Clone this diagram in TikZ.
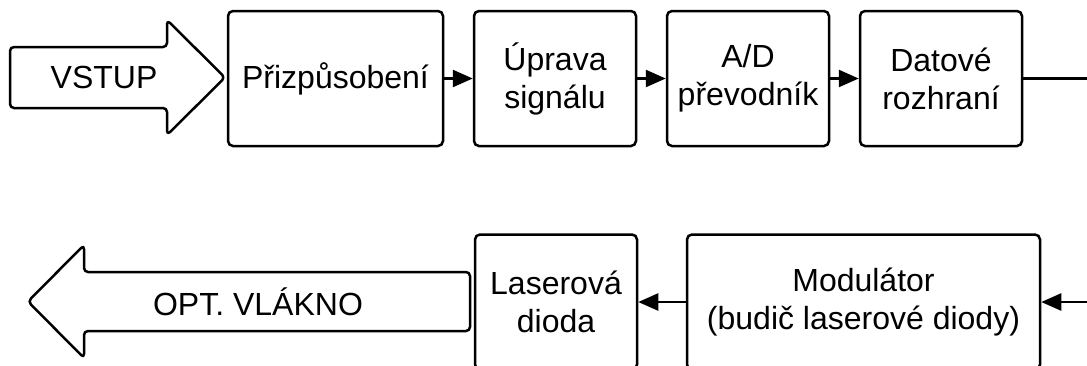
\documentclass[tikz,border=0pt]{standalone}
\usepackage{fontspec}
\setmainfont{Liberation Sans}
\usetikzlibrary{arrows.meta}
\begin{document}
\begin{tikzpicture}[x=1pt,y=-1pt,
  every node/.style={font=\fontsize{32}{38}\selectfont, text=black},
  block/.style={draw=black, line width=2.5pt, rounded corners=5pt, fill=white,
    minimum height=135pt, align=center, inner sep=0pt},
  bigarrow/.style={draw=black, line width=2.5pt, rounded corners=4pt, fill=white, line join=round},
  link/.style={draw=black, line width=2.5pt, -{Triangle[length=20pt,width=17pt]}},
  plainlink/.style={draw=black, line width=2.5pt}
]
\useasboundingbox (0,0) rectangle (1087,365);
\clip (0,0) rectangle (1087,365);

% input arrow
\path[bigarrow] (10,47) -- (167,47) -- (167,20) -- (225,77.5) -- (167,135) -- (167,108) -- (10,108) -- cycle;
\node (vstup) at (104,77.5) {VSTUP};

% upper chain of blocks
\node[block, minimum width=215pt] (prizp) at (335.5,78.5) {Přizpůsobení};
\node[block, minimum width=162pt] (uprava) at (555,78.5) {Úprava\\signálu};
\node[block, minimum width=162pt] (ad) at (748,78.5) {A/D\\převodník};
\node[block, minimum width=162pt] (datove) at (941,78.5) {Datové\\rozhraní};

\coordinate (outR) at (1095,78.5);
\coordinate (inR) at (1095,302);

\draw[link] (prizp.east) -- (uprava.west);
\draw[link] (uprava.east) -- (ad.west);
\draw[link] (ad.east) -- (datove.west);
\draw[plainlink] (datove.east) -- (outR);

% output arrow
\path[bigarrow] (470,272) -- (84,272) -- (84,245) -- (28,301.5) -- (84,358) -- (84,331) -- (470,331) -- cycle;
\node (vlakno) at (258,301.5) {OPT. VLÁKNO};

% lower chain of blocks
\node[block, minimum width=162pt] (laser) at (556,302) {Laserová\\dioda};
\node[block, minimum width=353pt] (modul) at (863.5,302) {Modulátor\\(budič laserové diody)};

\draw[link] (modul.west) -- (laser.east);
\draw[link] (inR) -- (modul.east);
\end{tikzpicture}
\end{document}
